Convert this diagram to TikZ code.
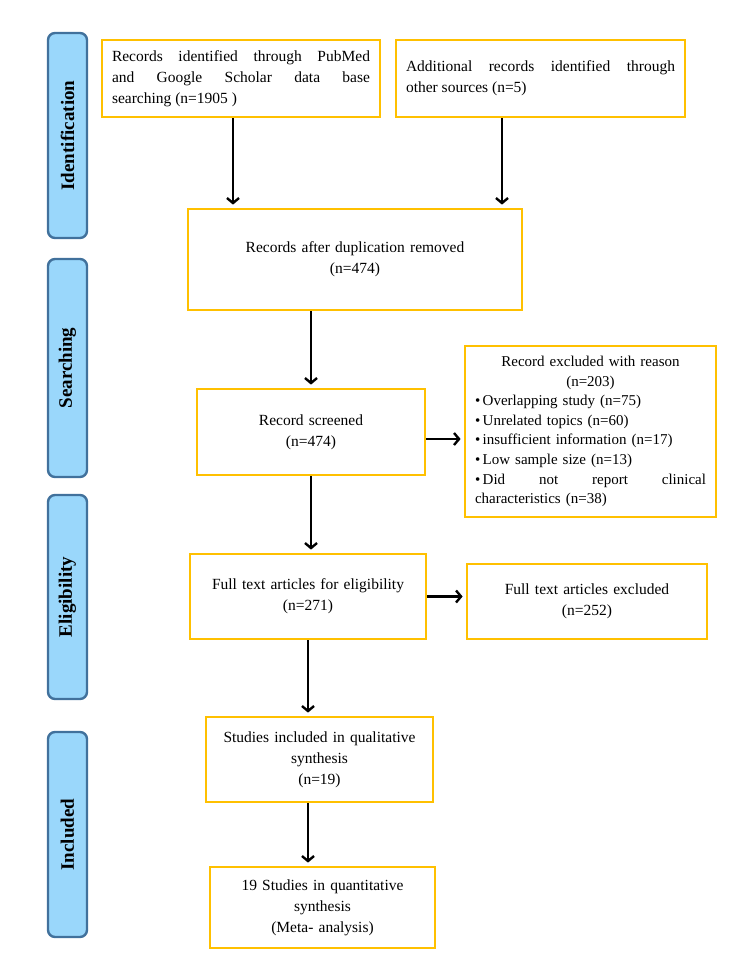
\documentclass[tikz,border=0pt]{standalone}
\usepackage{fontspec}
\setmainfont{Liberation Serif}
\usetikzlibrary{arrows.meta}
\definecolor{boxline}{HTML}{FFC000}
\definecolor{barfill}{HTML}{9AD7FB}
\definecolor{barline}{HTML}{41719C}
\begin{document}
\begin{tikzpicture}[x=1pt,y=-1pt,>={Straight Barb[length=5pt,width=12pt]}]
        \tikzset{
            stage/.style={draw=barline,fill=barfill,line width=2.4pt,rounded corners=7pt,rotate=90,minimum height=39pt,inner sep=0pt,font=\fontsize{19}{22}\selectfont\bfseries},
            flowbox/.style={draw=boxline,line width=2.8pt,fill=white,align=center,inner sep=0pt,font=\fontsize{15.5}{21}\selectfont},
            link/.style={->,line width=2.4pt,shorten >=3pt},
        }
        \useasboundingbox (0,0) rectangle (734,978);

        % stage bars on the left
        \node[stage,minimum width=205pt] (sid) at (67.5,135.5) {Identification};
        \node[stage,minimum width=218pt] (sse) at (67.5,368) {Searching};
        \node[stage,minimum width=204pt] (sel) at (67.5,597) {Eligibility};
        \node[stage,minimum width=205pt] (sin) at (67.5,834.5) {Included};

        % flow boxes
        \node[flowbox,align=justify,text width=258pt,minimum width=278pt,minimum height=77pt] (pub) at (241,78.5)
            {Records identified through PubMed\linebreak and Google Scholar data base\linebreak searching (n=1905 )};
        \node[flowbox,align=justify,text width=269pt,minimum width=289pt,minimum height=77pt] (oth) at (540.5,78.5)
            {Additional records identified through\linebreak other sources (n=5)};
        \node[flowbox,text width=314pt,minimum width=334pt,minimum height=101pt] (dup) at (355,259.5)
            {Records after duplication removed\\(n=474)};
        \node[flowbox,text width=208pt,minimum width=228pt,minimum height=86pt] (scr) at (311,432)
            {Record screened\\(n=474)};
        \node[flowbox,align=left,text width=231pt,minimum width=251pt,minimum height=171pt,font=\fontsize{15}{19.6}\selectfont] (excl) at (590.5,431.5)
            {{\centering Record excluded with reason\\(n=203)\par}
            \textbullet\,Overlapping study (n=75)\\
            \textbullet\,Unrelated topics (n=60)\\
            \textbullet\,insufficient information (n=17)\\
            \textbullet\,Low sample size (n=13)\\
            \textbullet\,Did\hfill not\hfill report\hfill clinical\\
            characteristics (n=38)\hfill\mbox{}};
        \node[flowbox,text width=216pt,minimum width=236pt,minimum height=85pt] (full) at (308,596.5)
            {Full text articles for eligibility\\(n=271)};
        \node[flowbox,text width=220pt,minimum width=240pt,minimum height=75pt] (fxcl) at (587,601.5)
            {Full text articles excluded\\(n=252)};
        \node[flowbox,text width=207pt,minimum width=227pt,minimum height=85pt] (qual) at (319.5,759.5)
            {Studies included in qualitative\\synthesis\\(n=19)};
        \node[flowbox,text width=205pt,minimum width=225pt,minimum height=81pt] (quant) at (322.5,907.5)
            {19 Studies in quantitative\\synthesis\\(Meta- analysis)};

        % connectors
        \draw[link] ([xshift=-8pt]pub.south) -- ([xshift=-8pt]pub.south |- dup.north);
        \draw[link] ([xshift=-38.5pt]oth.south) -- ([xshift=-38.5pt]oth.south |- dup.north);
        \draw[link] (dup.south -| scr.north) -- (scr.north);
        \draw[link] ([yshift=-7pt]scr.east) -- ([yshift=-7pt]scr.east -| excl.west);
        \draw[link] (scr.south) -- (scr.south |- full.north);
        \draw[link] (full.east) -- (full.east -| fxcl.west);
        \draw[link] (full.south) -- (full.south |- qual.north);
        \draw[link] (qual.south -| full.south) -- (quant.north -| full.south);
    \end{tikzpicture}
\end{document}
